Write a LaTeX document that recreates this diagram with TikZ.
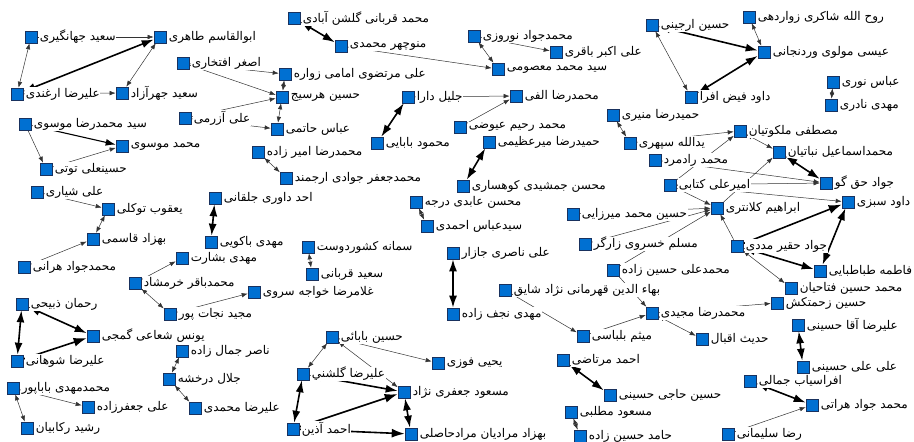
\documentclass[tikz,border=0pt]{standalone}
\usepackage{fontspec}
\newfontfamily\arabicfont[Script=Arabic]{DejaVu Sans}
\TeXXeTstate=1
\usetikzlibrary{arrows.meta}
\pgfdeclarelayer{bg}
\pgfsetlayers{bg,main}
\definecolor{sqfill}{RGB}{0,112,210}
\definecolor{sqdraw}{RGB}{25,50,95}
\newcommand\mkperson[4]{%
  \node[sq] (#1) at (#2,#3) {};
  \node[lbl] (#1t) at (#1.east) {\arabicfont #4};}
\begin{document}
\begin{tikzpicture}[x=1pt,y=-1pt,
  sq/.style={draw=sqdraw,fill=sqfill,line width=0.6pt,minimum size=12pt,inner sep=0pt},
  lbl/.style={anchor=west,fill=white,inner sep=0.6pt,xshift=1.8pt,font=\fontsize{12}{14}\selectfont},
  ea/.style={line width=0.5pt,draw=black!80,-{Latex[length=6pt,width=4.5pt]}},
  eb/.style={line width=0.5pt,draw=black!80,{Latex[length=6pt,width=4.5pt]}-{Latex[length=6pt,width=4.5pt]}},
  Ea/.style={line width=1.6pt,draw=black,-{Latex[length=13pt,width=9pt]}},
  Eb/.style={line width=1.6pt,draw=black,{Latex[length=12pt,width=8pt]}-{Latex[length=12pt,width=8pt]}},
  mb/.style={line width=1.1pt,draw=black,{Latex[length=7pt,width=5pt]}-{Latex[length=10pt,width=7pt]}}
]
\useasboundingbox (0,0) rectangle (914,442);
\mkperson{n1}{31}{37}{\beginR سعید جهانگیری\endR}
\mkperson{n2}{160}{37}{\beginR ابوالقاسم طاهری\endR}
\mkperson{n3}{17}{94}{\beginR علیرضا ارغندی\endR}
\mkperson{n4}{122}{93}{\beginR سعید جهرآزاد\endR}
\mkperson{n5}{183}{63}{\beginR اصغر افتخاری\endR}
\mkperson{n6}{185}{118}{\beginR علی آزرمی\endR}
\mkperson{n7}{25}{124}{\beginR سید محمدرضا موسوی\endR}
\mkperson{n8}{122}{146}{\beginR محمد موسوی\endR}
\mkperson{n9}{46}{169}{\beginR حسینعلی توتی\endR}
\mkperson{n10}{294}{18}{\beginR محمد قربانی گلشن آبادی\endR}
\mkperson{n11}{341}{46}{\beginR منوچهر محمدی\endR}
\mkperson{n12}{285}{74}{\beginR علی مرتضوی امامی زواره\endR}
\mkperson{n13}{282}{97}{\beginR حسین هرسیج\endR}
\mkperson{n14}{277}{129}{\beginR عباس حاتمی\endR}
\mkperson{n15}{408}{97}{\beginR جلیل دارا\endR}
\mkperson{n16}{377}{143}{\beginR محمود بابایی\endR}
\mkperson{n17}{258}{152}{\beginR محمدرضا امیر زاده\endR}
\mkperson{n18}{286}{178}{\beginR محمدجعفر جوادی ارجمند\endR}
\mkperson{n19}{474}{36}{\beginR محمدجواد نوروزی\endR}
\mkperson{n20}{556}{52}{\beginR علی اکبر باقری\endR}
\mkperson{n21}{498}{69}{\beginR سید محمد معصومی\endR}
\mkperson{n22}{516}{96}{\beginR محمدرضا الفی\endR}
\mkperson{n23}{460}{127}{\beginR محمد رحیم عیوضی\endR}
\mkperson{n24}{489}{142}{\beginR حمیدرضا میرعظیمی\endR}
\mkperson{n25}{613}{115}{\beginR حمیدرضا منیری\endR}
\mkperson{n26}{630}{143}{\beginR یدالله سپهری\endR}
\mkperson{n27}{652}{25}{\beginR حسین ارجینی\endR}
\mkperson{n28}{749}{17}{\beginR روح الله شاکری زواردهی\endR}
\mkperson{n29}{764}{52}{\beginR عیسی مولوی وردنجانی\endR}
\mkperson{n30}{691}{97}{\beginR داود فیض افرا\endR}
\mkperson{n31}{833}{82}{\beginR عباس نوری\endR}
\mkperson{n32}{831}{105}{\beginR مهدی نادری\endR}
\mkperson{n33}{740}{131}{\beginR مصطفی ملکوتیان\endR}
\mkperson{n34}{779}{152}{\beginR محمداسماعیل نباتیان\endR}
\mkperson{n35}{826}{183}{\beginR جواد حق گو\endR}
\mkperson{n36}{848}{202}{\beginR داود سبزی\endR}
\mkperson{n37}{717}{208}{\beginR ابراهیم کلانتری\endR}
\mkperson{n38}{670}{185}{\beginR امیرعلی کتابی\endR}
\mkperson{n39}{655}{160}{\beginR محمد رادمرد\endR}
\mkperson{n40}{737}{246}{\beginR جواد حقیر مددی\endR}
\mkperson{n41}{820}{271}{\beginR فاطمه طباطبایی\endR}
\mkperson{n42}{791}{288}{\beginR محمد حسین فتاحیان\endR}
\mkperson{n43}{463}{186}{\beginR محسن جمشیدی کوهساری\endR}
\mkperson{n44}{416}{202}{\beginR محسن عابدی درجه\endR}
\mkperson{n45}{427}{226}{\beginR سیدعباس احمدی\endR}
\mkperson{n46}{573}{214}{\beginR حسین محمد میرزایی\endR}
\mkperson{n47}{585}{244}{\beginR مسلم خسروی زارگر\endR}
\mkperson{n48}{613}{270}{\beginR محمدعلی حسین زاده\endR}
\mkperson{n49}{453}{253}{\beginR علی ناصری جازار\endR}
\mkperson{n50}{505}{290}{\beginR بهاء الدین قهرمانی نژاد شایق\endR}
\mkperson{n51}{215}{198}{\beginR احد داوری جلقانی\endR}
\mkperson{n52}{211}{242}{\beginR مهدی باکویی\endR}
\mkperson{n53}{182}{258}{\beginR مهدی بشارت\endR}
\mkperson{n54}{135}{283}{\beginR محمدباقر خرمشاد\endR}
\mkperson{n55}{170}{314}{\beginR مجید نجات پور\endR}
\mkperson{n56}{254}{292}{\beginR غلامرضا خواجه سروی\endR}
\mkperson{n57}{308}{247}{\beginR سمانه کشوردوست\endR}
\mkperson{n58}{312}{274}{\beginR سعید قربانی\endR}
\mkperson{n59}{453}{314}{\beginR مهدی نجف زاده\endR}
\mkperson{n60}{37}{192}{\beginR علی شیاری\endR}
\mkperson{n61}{108}{209}{\beginR یعقوب توکلی\endR}
\mkperson{n62}{93}{239}{\beginR بهزاد قاسمی\endR}
\mkperson{n63}{24}{267}{\beginR محمدجواد هرانی\endR}
\mkperson{n64}{22}{304}{\beginR رحمان ذبیحی\endR}
\mkperson{n65}{93}{336}{\beginR یونس شعاعی گمجی\endR}
\mkperson{n66}{17}{361}{\beginR علیرضا شوهانی\endR}
\mkperson{n67}{182}{351}{\beginR ناصر جمال زاده\endR}
\mkperson{n68}{169}{379}{\beginR جلال درخشه\endR}
\mkperson{n69}{195}{408}{\beginR علیرضا محمدی\endR}
\mkperson{n70}{13}{388}{\beginR محمدمهدی باباپور\endR}
\mkperson{n71}{88}{407}{\beginR علی جعفرزاده\endR}
\mkperson{n72}{27}{428}{\beginR رشید رکابیان\endR}
\mkperson{n73}{332}{337}{\beginR حسین بابائی\endR}
\mkperson{n74}{438}{363}{\beginR یحیی فوزی\endR}
\mkperson{n75}{303}{374}{\beginR علیرضا گلشني\endR}
\mkperson{n76}{404}{392}{\beginR مسعود جعفری نژاد\endR}
\mkperson{n77}{293}{429}{\beginR احمد آذین\endR}
\mkperson{n78}{411}{434}{\beginR بهزاد مرادیان مرادحاصلی\endR}
\mkperson{n79}{652}{313}{\beginR محمدرضا مجیدی\endR}
\mkperson{n80}{583}{336}{\beginR میثم بلباسی\endR}
\mkperson{n81}{702}{339}{\beginR حدیث اقبال\endR}
\mkperson{n82}{777}{303}{\beginR حسین زحمتکش\endR}
\mkperson{n83}{563}{360}{\beginR احمد مرتاضی\endR}
\mkperson{n84}{610}{395}{\beginR حسین حاجی حسینی\endR}
\mkperson{n85}{571}{412}{\beginR مسعود مطلبی\endR}
\mkperson{n86}{580}{436}{\beginR حامد حسین زاده\endR}
\mkperson{n87}{798}{325}{\beginR علیرضا آقا حسینی\endR}
\mkperson{n88}{803}{367}{\beginR علی علی حسینی\endR}
\mkperson{n89}{750}{381}{\beginR افراسیاب جمالی\endR}
\mkperson{n90}{812}{405}{\beginR محمد جواد هراتی\endR}
\mkperson{n91}{728}{434}{\beginR رضا سلیمانی\endR}
\begin{pgfonlayer}{bg}
\foreach \a/\b in {n1/n3,n4/n2,n12/n13,n13/n14,n17/n18,n19/n21,n25/n26,n27/n30,n28/n29,n31/n32,n33/n34,n40/n42,n44/n45,n54/n55,n57/n58,n61/n62,n67/n68,n68/n69,n70/n72,n73/n74,n73/n75,n73/n76,n85/n86,n79/n81}
  \draw[eb] (\a) -- (\b);
\foreach \a/\b in {n1/n2,n3/n4,n5/n12,n5/n13,n6/n13,n6/n14,n7/n9,n9/n8,n11/n21,n19/n20,n15/n22,n23/n22,n26/n33,n38/n33,n37/n34,n39/n35,n38/n35,n38/n36,n38/n37,n46/n37,n47/n37,n48/n37,n40/n37,n48/n79,n50/n80,n80/n79,n79/n82,n91/n90,n60/n61,n63/n62,n54/n53,n55/n56,n70/n71}
  \draw[ea] (\a) -- (\b);
\foreach \a/\b in {n3/n2,n10/n11,n15/n16,n24/n43,n27/n29,n30/n29,n34/n35,n40/n41,n41/n36,n49/n59,n51/n52,n64/n65,n64/n66,n75/n77,n76/n78,n83/n84,n87/n88,n89/n90,n75/n76}
  \draw[Eb] (\a) -- (\b);
\foreach \a/\b in {n40/n36,n66/n65,n77/n76,n77/n78}
  \draw[Ea] (\a) -- (\b);
\draw[mb] (n7) -- (n8);
\end{pgfonlayer}
\end{tikzpicture}
\end{document}
